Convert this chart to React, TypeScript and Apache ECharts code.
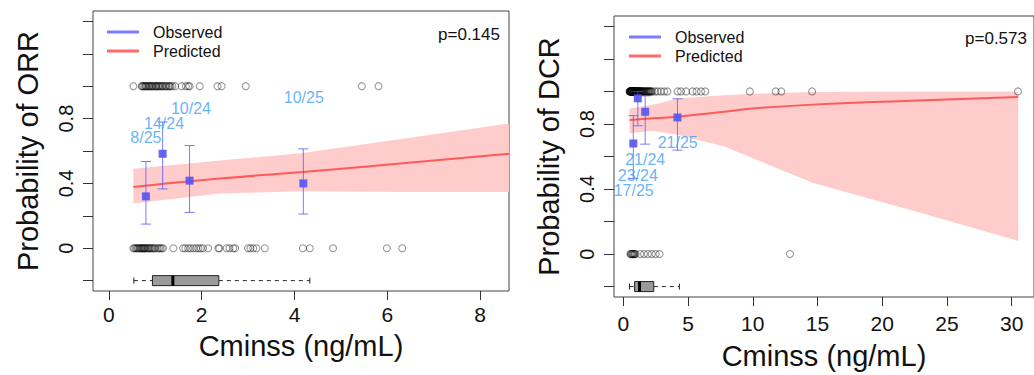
import React, { useEffect, useRef } from "react";
import * as echarts from "echarts";

const FONT = "'Liberation Sans', Arial, Helvetica, sans-serif";

// ---------- ORR panel data ----------
const orrRespX = [0.53, 0.71, 0.72, 0.74, 0.77, 0.79, 0.8, 0.82, 0.85, 0.87, 0.88, 0.91, 0.93, 0.94, 0.97, 1.0, 1.02, 1.03, 1.06, 1.08, 1.1, 1.13, 1.15, 1.17, 1.21, 1.23, 1.25, 1.29, 1.31, 1.33, 1.37, 1.43, 1.57, 1.66, 1.71, 1.74, 1.96, 2.34, 2.43, 2.95, 5.45, 5.81];
const orrNonRespX = [0.53, 0.55, 0.58, 0.6, 0.62, 0.64, 0.66, 0.68, 0.7, 0.71, 0.73, 0.75, 0.76, 0.78, 0.79, 0.82, 0.84, 0.86, 0.88, 0.9, 0.93, 0.95, 0.98, 1.0, 1.05, 1.08, 1.11, 1.14, 1.17, 1.39, 1.6, 1.65, 1.71, 1.76, 1.82, 1.88, 1.93, 1.98, 2.03, 2.14, 2.36, 2.38, 2.54, 2.6, 2.68, 2.72, 3.0, 3.05, 3.11, 3.18, 3.36, 4.18, 4.33, 4.83, 5.99, 6.32];
const orrObsX = [0.8, 1.16, 1.74, 4.19];
const orrObsP = [0.32, 0.583, 0.417, 0.4];
const orrObsLo = [0.149, 0.366, 0.221, 0.211];
const orrObsHi = [0.535, 0.779, 0.634, 0.613];
const orrObsText = ["8/25", "14/24", "10/24", "10/25"];
const orrTextX = [0.8, 1.19, 1.77, 4.2];
const orrTextY = [0.685, 0.771, 0.86, 0.93];
const orrPredX = [0.53, 2.39, 4.18, 6.34, 8.62];
const orrPredY = [0.378, 0.43, 0.47, 0.525, 0.583];
const orrPredLo = [0.276, 0.337, 0.352, 0.347, 0.347];
const orrPredHi = [0.49, 0.542, 0.587, 0.675, 0.77];
const orrBox = [0.54, 0.94, 1.38, 2.37, 4.33];
const orrXTicks = [0, 2, 4, 6, 8];

// ---------- DCR panel data ----------
const dcrRespX = [0.48, 0.5, 0.52, 0.53, 0.55, 0.57, 0.58, 0.6, 0.61, 0.62, 0.63, 0.65, 0.67, 0.68, 0.69, 0.7, 0.72, 0.74, 0.76, 0.78, 0.8, 0.82, 0.83, 0.84, 0.86, 0.88, 0.9, 0.92, 0.95, 0.97, 0.99, 1.0, 1.02, 1.05, 1.07, 1.1, 1.12, 1.15, 1.17, 1.18, 1.2, 1.22, 1.26, 1.29, 1.32, 1.35, 1.38, 1.41, 1.45, 1.48, 1.52, 1.56, 1.6, 1.65, 1.7, 1.75, 1.8, 1.85, 1.9, 1.95, 2.0, 2.05, 2.1, 2.15, 2.25, 2.45, 2.65, 2.9, 3.15, 3.4, 4.2, 4.46, 4.85, 5.35, 5.66, 6.0, 6.33, 9.77, 11.77, 12.2, 14.58, 30.48];
const dcrNonRespX = [0.55, 0.58, 0.65, 0.68, 0.75, 0.78, 0.85, 0.88, 0.95, 1.3, 1.6, 1.9, 2.2, 2.5, 2.8, 12.87];
const dcrObsX = [0.77, 1.12, 1.69, 4.18];
const dcrObsP = [0.68, 0.958, 0.875, 0.84];
const dcrObsLo = [0.465, 0.789, 0.676, 0.639];
const dcrObsHi = [0.851, 0.999, 0.973, 0.955];
const dcrObsText = ["17/25", "23/24", "21/24", "21/25"];
const dcrTextX = [0.8, 1.12, 1.69, 4.2];
const dcrTextY = [0.389, 0.484, 0.581, 0.688];
const dcrPredX = [0.48, 2.28, 4.2, 7.8, 9.97, 14.6, 22.8, 30.5];
const dcrPredY = [0.824, 0.835, 0.845, 0.875, 0.895, 0.919, 0.945, 0.966];
const dcrPredLo = [0.743, 0.759, 0.733, 0.662, 0.591, 0.439, 0.257, 0.081];
const dcrPredHi = [0.895, 0.919, 0.956, 0.976, 0.986, 0.996, 0.999, 1.0];
const dcrBox = [0.48, 0.87, 1.25, 2.35, 4.33];
const dcrXTicks = [0, 5, 10, 15, 20, 25, 30];

// ---------- shared ----------
const yTicks = [-0.2, 0, 0.2, 0.4, 0.6, 0.8, 1.0, 1.2, 1.4];
const yLabels = [0, 0.4, 0.8];
const boxY = -0.2;

const BLUE_LINE = "rgba(80,80,255,0.75)";
const BLUE_SQ = "#5555f2";
const LABEL_BLUE = "#3fa0f5";
const RED = "#ff5a5a";
const BAND = "#ffcccc";
const AXIS = "#333";

function xAxisFor(gi: number, min: number, max: number, ticks: number[], gap: number, margin: number) {
  return {
    type: "value", gridIndex: gi, min, max,
    axisLine: { show: false, onZero: false },
    splitLine: { show: false },
    axisTick: { show: true, length: 9, customValues: ticks, lineStyle: { color: AXIS } },
    axisLabel: { customValues: ticks, fontSize: 21, color: "#111", margin, fontFamily: FONT },
    name: "Cminss (ng/mL)", nameLocation: "middle", nameGap: gap,
    nameTextStyle: { fontSize: 29, color: "#111", fontFamily: FONT },
  };
}

function yAxisFor(gi: number, title: string, gap: number) {
  return {
    type: "value", gridIndex: gi, min: -0.264, max: 1.464,
    axisLine: { show: false, onZero: false },
    splitLine: { show: false },
    axisTick: { show: true, length: 10, customValues: yTicks, lineStyle: { color: AXIS } },
    axisLabel: {
      customValues: yLabels, rotate: 90, fontSize: 20, color: "#111", margin: 17, fontFamily: FONT,
      formatter: (v: number) => String(Math.round(v * 10) / 10),
    },
    name: title, nameLocation: "middle", nameGap: gap, nameRotate: 90,
    nameTextStyle: { fontSize: 29, color: "#111", fontFamily: FONT },
  };
}

function panelSeries(
  gi: number,
  respX: number[], nonX: number[],
  obsX: number[], obsP: number[], obsLo: number[], obsHi: number[],
  text: string[], tx: number[], ty: number[],
  px: number[], py: number[], plo: number[], phi: number[],
  box: number[]
) {
  return [
    {
      type: "custom", xAxisIndex: gi, yAxisIndex: gi, clip: true, z: 1, silent: true,
      data: px.map((x, i) => [x, plo[i], phi[i]]),
      renderItem: (params: any, api: any) => {
        if (params.dataIndex !== 0) return null;
        const top = px.map((x, i) => api.coord([x, phi[i]]));
        const bot = px.map((x, i) => api.coord([x, plo[i]])).reverse();
        return { type: "polygon", shape: { points: top.concat(bot) }, style: { fill: BAND } };
      },
    },
    {
      type: "line", xAxisIndex: gi, yAxisIndex: gi, z: 2, showSymbol: false, smooth: true, silent: true,
      data: px.map((x, i) => [x, py[i]]),
      lineStyle: { color: RED, width: 2 },
    },
    {
      type: "scatter", xAxisIndex: gi, yAxisIndex: gi, z: 3, silent: true, symbol: "circle", symbolSize: 7,
      data: respX.map((x) => [x, 1]).concat(nonX.map((x) => [x, 0])),
      itemStyle: { color: "rgba(0,0,0,0)", borderColor: "rgba(0,0,0,0.5)", borderWidth: 1.1 },
    },
    {
      type: "custom", xAxisIndex: gi, yAxisIndex: gi, z: 4, silent: true,
      data: obsX.map((x, i) => [x, obsLo[i], obsHi[i]]),
      renderItem: (params: any, api: any) => {
        const x = api.value(0);
        const a = api.coord([x, api.value(1)]);
        const b = api.coord([x, api.value(2)]);
        const w = 5;
        const st = { stroke: BLUE_LINE, lineWidth: 1 };
        return {
          type: "group",
          children: [
            { type: "line", shape: { x1: a[0], y1: a[1], x2: b[0], y2: b[1] }, style: st },
            { type: "line", shape: { x1: a[0] - w, y1: a[1], x2: a[0] + w, y2: a[1] }, style: st },
            { type: "line", shape: { x1: b[0] - w, y1: b[1], x2: b[0] + w, y2: b[1] }, style: st },
          ],
        };
      },
    },
    {
      type: "scatter", xAxisIndex: gi, yAxisIndex: gi, z: 5, silent: true, symbol: "rect", symbolSize: 8,
      data: obsX.map((x, i) => [x, obsP[i]]),
      itemStyle: { color: BLUE_SQ, opacity: 0.9 },
    },
    {
      type: "scatter", xAxisIndex: gi, yAxisIndex: gi, z: 6, silent: true, symbolSize: 1,
      data: tx.map((x, i) => [x, ty[i], text[i]]),
      itemStyle: { color: "rgba(0,0,0,0)" },
      label: {
        show: true, position: "inside", formatter: (p: any) => p.data[2],
        color: LABEL_BLUE, fontSize: 16, fontFamily: FONT,
      },
    },
    {
      type: "custom", xAxisIndex: gi, yAxisIndex: gi, z: 5, silent: true,
      data: [[box[0], box[1], box[2], box[3], box[4], boxY]],
      renderItem: (params: any, api: any) => {
        const yv = api.value(5);
        const p0 = api.coord([api.value(0), yv]);
        const p1 = api.coord([api.value(1), yv]);
        const p2 = api.coord([api.value(2), yv]);
        const p3 = api.coord([api.value(3), yv]);
        const p4 = api.coord([api.value(4), yv]);
        const y = p0[1];
        const h = 10;
        const dash = { stroke: "#222", lineWidth: 1, lineDash: [4, 4] };
        const solid = { stroke: "#222", lineWidth: 1 };
        return {
          type: "group",
          children: [
            { type: "line", shape: { x1: p0[0], y1: y, x2: p1[0], y2: y }, style: dash },
            { type: "line", shape: { x1: p3[0], y1: y, x2: p4[0], y2: y }, style: dash },
            { type: "line", shape: { x1: p0[0], y1: y - 3, x2: p0[0], y2: y + 3 }, style: solid },
            { type: "line", shape: { x1: p4[0], y1: y - 3, x2: p4[0], y2: y + 3 }, style: solid },
            { type: "rect", shape: { x: p1[0], y: y - h / 2, width: p3[0] - p1[0], height: h }, style: { fill: "#9a9a9a", stroke: "#222", lineWidth: 1 } },
            { type: "line", shape: { x1: p2[0], y1: y - h / 2, x2: p2[0], y2: y + h / 2 }, style: { stroke: "#000", lineWidth: 3 } },
          ],
        };
      },
    },
  ];
}

function legendGraphics(x0: number, y0: number, y1: number, pRight: number, pY: number, pText: string) {
  return [
    { type: "line", shape: { x1: x0, y1: y0, x2: x0 + 32, y2: y0 }, style: { stroke: "rgba(90,90,255,0.8)", lineWidth: 3 } },
    { type: "line", shape: { x1: x0, y1: y1, x2: x0 + 32, y2: y1 }, style: { stroke: "rgba(255,80,80,0.85)", lineWidth: 3 } },
    { type: "text", x: x0 + 46, y: y0, style: { text: "Observed", fill: "#111", font: `16px ${FONT}`, verticalAlign: "middle", align: "left" } },
    { type: "text", x: x0 + 46, y: y1, style: { text: "Predicted", fill: "#111", font: `16px ${FONT}`, verticalAlign: "middle", align: "left" } },
    { type: "text", x: pRight, y: pY, style: { text: pText, fill: "#111", font: `17px ${FONT}`, verticalAlign: "middle", align: "right" } },
  ];
}

export default function App() {
  const ref = useRef<HTMLDivElement>(null);
  useEffect(() => {
    if (!ref.current) return;
    const chart = echarts.init(ref.current, null, { renderer: "svg" });
    chart.setOption({
      animation: false,
      backgroundColor: "#fff",
      textStyle: { fontFamily: FONT },
      grid: [
        { left: 93, top: 11, width: 416, height: 280, show: true, borderColor: "#444", borderWidth: 1, backgroundColor: "transparent" },
        { left: 614, top: 16, width: 422, height: 284, show: true, borderColor: "#444", borderWidth: 1, backgroundColor: "transparent" },
      ],
      xAxis: [
        xAxisFor(0, -0.34, 8.62, orrXTicks, 40, 13),
        xAxisFor(1, -0.72, 31.72, dcrXTicks, 44, 16),
      ],
      yAxis: [yAxisFor(0, "Probability of ORR", 51), yAxisFor(1, "Probability of DCR", 51)],
      series: [
        ...panelSeries(0, orrRespX, orrNonRespX, orrObsX, orrObsP, orrObsLo, orrObsHi, orrObsText, orrTextX, orrTextY, orrPredX, orrPredY, orrPredLo, orrPredHi, orrBox),
        ...panelSeries(1, dcrRespX, dcrNonRespX, dcrObsX, dcrObsP, dcrObsLo, dcrObsHi, dcrObsText, dcrTextX, dcrTextY, dcrPredX, dcrPredY, dcrPredLo, dcrPredHi, dcrBox),
      ],
      graphic: [
        ...legendGraphics(107, 32, 51, 500, 34, "p=0.145"),
        ...legendGraphics(629, 37, 56, 1027, 38, "p=0.573"),
      ],
    });
    return () => chart.dispose();
  }, []);
  return <div ref={ref} style={{ position: "fixed", left: 0, top: 0, width: 1034, height: 375 }} />;
}
